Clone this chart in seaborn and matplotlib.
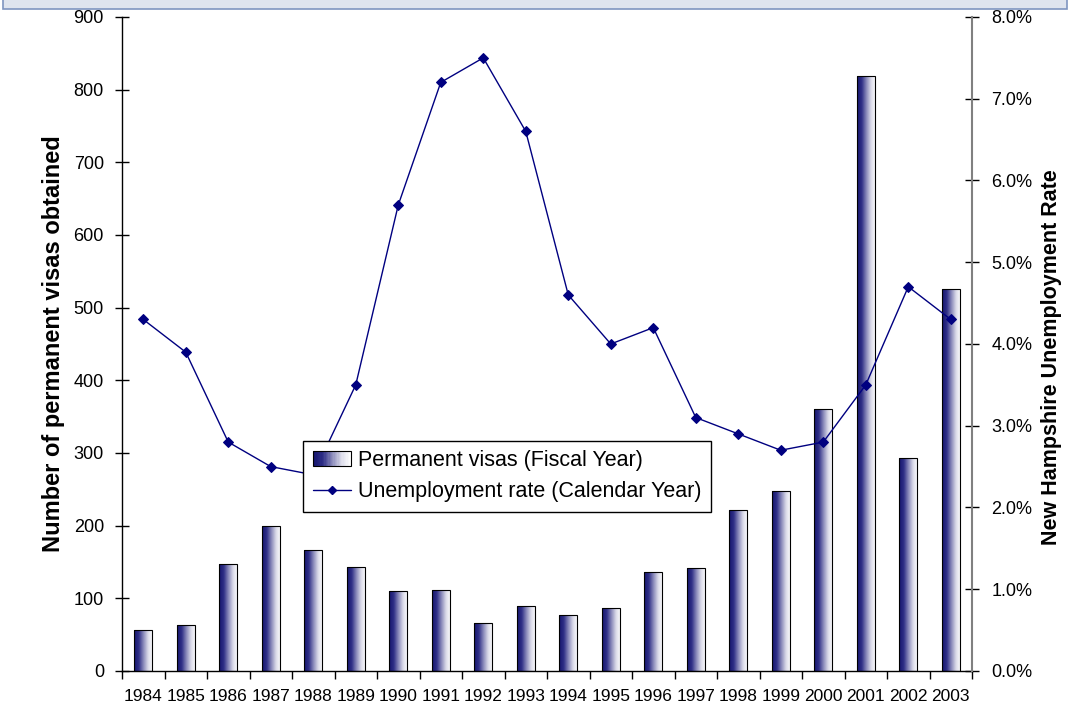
import numpy as np
import matplotlib
matplotlib.use("Agg")
import matplotlib.pyplot as plt
from matplotlib.colors import LinearSegmentedColormap
from matplotlib.patches import Rectangle
from matplotlib.lines import Line2D
from matplotlib.legend_handler import HandlerBase
from matplotlib.ticker import FuncFormatter, MultipleLocator, FixedLocator
import seaborn as sns

sns.set_style("ticks")
plt.rcParams['font.family'] = ['Liberation Sans', 'DejaVu Sans']
plt.rcParams['text.color'] = 'black'
plt.rcParams['axes.labelcolor'] = 'black'

years = [str(y) for y in range(1984, 2004)]
visas = [56, 63, 147, 200, 166, 143, 110, 111, 66, 89, 77, 87, 136, 142, 222, 248, 360, 819, 293, 526]
unemployment = [4.3, 3.9, 2.8, 2.5, 2.4, 3.5, 5.7, 7.2, 7.5, 6.6, 4.6, 4.0, 4.2, 3.1, 2.9, 2.7, 2.8, 3.5, 4.7, 4.3]

navy = "#000080"
grad_cmap = LinearSegmentedColormap.from_list(
    "bar_grad", ["#15156e", "#2e2e86", "#8a8abb", "#dcdcea", "#ffffff"])

fig = plt.figure(figsize=(10.73, 7.04), dpi=100)
ax = fig.add_axes([0.1137, 0.0469, 0.7922, 0.929])

# header strip at the very top
fig.patches.append(Rectangle((0.003, 0.987), 0.991, 0.03, transform=fig.transFigure,
                             facecolor="#dfe4ee", edgecolor="#7f95c0", linewidth=1.2))

sns.barplot(x=years, y=visas, ax=ax, width=0.43, facecolor="none",
            edgecolor="black", linewidth=0.8, zorder=3)

# gradient fill for each bar, clipped to the bar shape
gradient = np.linspace(0, 1, 256).reshape(1, -1)
for p in ax.patches:
    x0, y0 = p.get_x(), p.get_y()
    w, h = p.get_width(), p.get_height()
    im = ax.imshow(gradient, extent=[x0, x0 + w, y0, y0 + h], aspect="auto",
                   cmap=grad_cmap, zorder=2, interpolation="bicubic")
    im.set_clip_path(p)

ax.set_xlim(-0.5, len(years) - 0.5)
ax.set_ylim(0, 900)
ax.yaxis.set_major_locator(MultipleLocator(100))
ax.tick_params(axis="y", direction="inout", length=10, width=1, labelsize=13,
               colors="black", pad=8)
ax.xaxis.set_minor_locator(FixedLocator(np.arange(-0.5, len(years), 1)))
ax.tick_params(axis="x", which="major", length=0, labelsize=12.5, pad=13, colors="black")
ax.tick_params(axis="x", which="minor", direction="out", length=6, width=1, color="black")
ax.set_ylabel("Number of permanent visas obtained", fontsize=17, fontweight="bold",
              labelpad=6, color="black")
ax.set_xlabel("")
for s in ["left", "bottom"]:
    ax.spines[s].set_color("black")
    ax.spines[s].set_linewidth(1)
ax.spines["top"].set_visible(False)
ax.spines["right"].set_visible(False)

ax2 = ax.twinx()
sns.lineplot(x=np.arange(len(years)), y=unemployment, ax=ax2, color=navy, linewidth=1,
             marker="D", markersize=5, markeredgecolor=navy, zorder=4)
ax2.set_ylim(0, 8)
ax2.yaxis.set_major_locator(MultipleLocator(1))
ax2.yaxis.set_major_formatter(FuncFormatter(lambda v, _: "{:.1f}%".format(v)))
ax2.tick_params(axis="y", direction="inout", length=10, width=1, labelsize=13,
                colors="black", pad=9)
ax2.set_ylabel("New Hampshire Unemployment Rate", fontsize=15.5, fontweight="bold",
               color="black")
ax2.yaxis.set_label_coords(1.081, 0.48)
ax2.spines["right"].set_color("#808080")
ax2.spines["right"].set_linewidth(1.5)
for s in ["top", "left", "bottom"]:
    ax2.spines[s].set_visible(False)
ax2.set_xlim(-0.5, len(years) - 0.5)


class GradientHandler(HandlerBase):
    def create_artists(self, legend, orig_handle, xdescent, ydescent, width, height, fontsize, trans):
        n = 30
        arts = []
        for i in range(n):
            r = Rectangle((-xdescent + width * i / n, -ydescent), width / n + 0.2, height,
                          facecolor=grad_cmap(i / (n - 1)), edgecolor="none", transform=trans)
            arts.append(r)
        border = Rectangle((-xdescent, -ydescent), width, height, facecolor="none",
                           edgecolor="black", linewidth=0.8, transform=trans)
        arts.append(border)
        return arts


bar_handle = Rectangle((0, 0), 1, 1)
line_handle = Line2D([], [], color=navy, marker="D", markersize=4, linewidth=1)
leg = ax2.legend([bar_handle, line_handle],
                 ["Permanent visas (Fiscal Year)", "Unemployment rate (Calendar Year)"],
                 handler_map={Rectangle: GradientHandler()},
                 loc="upper left", bbox_to_anchor=(0.213, 0.352), borderaxespad=0,
                 fontsize=15.5, frameon=True, fancybox=False, edgecolor="black",
                 framealpha=1, handlelength=1.8, handletextpad=0.3, borderpad=0.45,
                 labelspacing=0.45)
leg.get_frame().set_linewidth(1)

fig.savefig("out.png", dpi=100)
